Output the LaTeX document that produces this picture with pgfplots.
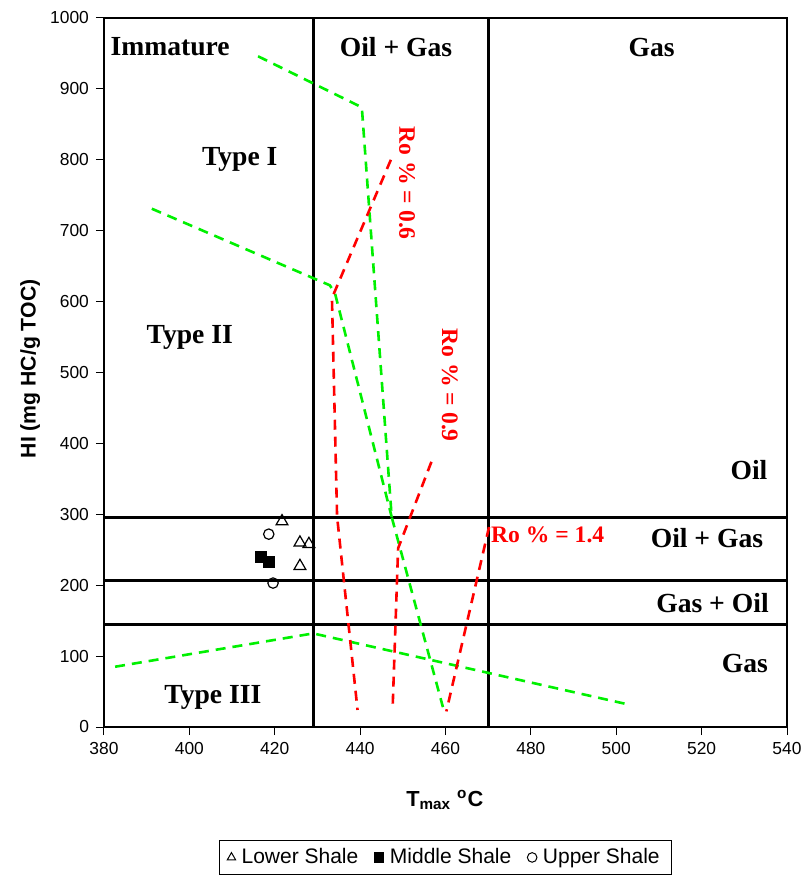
\documentclass[border=0pt]{standalone}
\usepackage{fontspec}
\setmainfont{Liberation Serif}
\setsansfont{Liberation Sans}
\usepackage{pgfplots}
\pgfplotsset{compat=1.18}
\definecolor{kgreen}{RGB}{0,240,0}
\definecolor{rored}{RGB}{255,0,0}

\begin{document}
\begin{tikzpicture}
\path[use as bounding box] (-52pt,-75.5pt) rectangle (349.5pt,363.5pt);
\begin{axis}[
  scale only axis,
  width=341.5pt, height=354.5pt,
  xmin=380, xmax=540, ymin=0, ymax=1000,
  xtick={380,400,...,540},
  ytick={0,100,...,1000},
  xtick pos=bottom, ytick pos=left,
  tick align=outside,
  major tick length=4pt,
  tick style={black, line width=0.5pt},
  axis line style={black, line width=0.6pt},
  /pgf/number format/assume math mode=true,
  /pgf/number format/1000 sep={},
  ticklabel style={font=\sffamily\fontsize{8.7}{10}\selectfont},
  xlabel={\bfseries T\textsubscript{max} \textsuperscript{o}C},
  ylabel={\bfseries HI (mg HC/g TOC)},
  xlabel style={font=\sffamily\fontsize{10.9}{12}\selectfont, at={(axis description cs:0.499,-0.103)}, anchor=center},
  ylabel style={font=\sffamily\fontsize{10.6}{12}\selectfont, at={(axis description cs:-0.108,0.505)}, anchor=center},
  legend columns=3,
  legend style={at={(axis description cs:0.5,-0.159)}, anchor=north,
    draw=black, line width=0.6pt, font=\sffamily\fontsize{10.5}{12}\selectfont,
    inner xsep=4pt, inner ysep=2pt,
    /tikz/every odd column/.append style={column sep=1pt},
    /tikz/every even column/.append style={column sep=6pt}},
  legend image post style={mark size=2.4pt, line width=0.5pt},
]
% sample points
\addplot[only marks, mark=triangle, mark size=3.4pt, black, line width=0.6pt, mark options={fill=white}]
  coordinates {(421.7,290) (425.9,260) (428.0,258) (425.9,227)};
\addlegendentry{Lower Shale}
\addplot[only marks, mark=square*, mark size=2.6pt, black]
  coordinates {(416.8,240) (418.6,233)};
\addlegendentry{Middle Shale}
\addplot[only marks, mark=o, mark size=2.6pt, black, line width=0.6pt]
  coordinates {(418.6,272) (419.6,203)};
\addlegendentry{Upper Shale}

% maturity zone boundaries
\addplot[forget plot, black, line width=1.5pt] coordinates {(429,0) (429,1000)};
\addplot[forget plot, black, line width=1.5pt] coordinates {(470,0) (470,1000)};
\addplot[forget plot, black, line width=1.5pt] coordinates {(380,296) (540,296)};
\addplot[forget plot, black, line width=1.5pt] coordinates {(380,206) (540,206)};
\addplot[forget plot, black, line width=1.5pt] coordinates {(380,145) (540,145)};

% kerogen type boundaries
\addplot[forget plot, kgreen, line width=1.3pt, dash pattern=on 5pt off 3.5pt]
  coordinates {(416.1,946) (440.4,874) (447.4,296) (459.4,28)};
\addplot[forget plot, kgreen, line width=1.3pt, dash pattern=on 5pt off 3.5pt]
  coordinates {(391.2,731) (432.9,623) (434.1,612) (447.4,296)};
\addplot[forget plot, kgreen, line width=1.3pt, dash pattern=on 5pt off 3.5pt]
  coordinates {(382.6,85) (429,132) (503.4,31)};

% vitrinite reflectance lines
\addplot[forget plot, rored, line width=1.3pt, dash pattern=on 5pt off 3.5pt]
  coordinates {(447.2,800) (433.4,605) (434.6,297) (439.4,24)};
\addplot[forget plot, rored, line width=1.3pt, dash pattern=on 5pt off 3.5pt]
  coordinates {(456.7,374) (448.9,252) (447.6,24)};
\addplot[forget plot, rored, line width=1.3pt, dash pattern=on 5pt off 3.5pt]
  coordinates {(470.2,282) (460.2,22)};

% zone labels
\begin{scope}[every node/.style={font=\bfseries\fontsize{13.8}{15}\selectfont, inner sep=0pt}]
\node at (axis cs:395.5,959) {Immature};
\node at (axis cs:448.4,959) {Oil + Gas};
\node at (axis cs:508.3,959) {Gas};
\node at (axis cs:411.8,800) {Type I};
\node at (axis cs:400.1,550) {Type II};
\node at (axis cs:405.5,41) {Type III};
\node[anchor=east] at (axis cs:535.5,362) {Oil};
\node[anchor=east] at (axis cs:534.5,266) {Oil + Gas};
\node[anchor=east] at (axis cs:535.8,175) {Gas + Oil};
\node[anchor=east] at (axis cs:535.6,90) {Gas};
\end{scope}
\begin{scope}[every node/.style={font=\bfseries\fontsize{11.8}{13}\selectfont, text=rored, inner sep=0pt}]
\node[rotate=-90] at (axis cs:451,767) {Ro \% = 0.6};
\node[rotate=-90] at (axis cs:461,482) {Ro \% = 0.9};
\node[anchor=west] at (axis cs:470.6,271) {Ro \% = 1.4};
\end{scope}
\end{axis}
\end{tikzpicture}
\end{document}
